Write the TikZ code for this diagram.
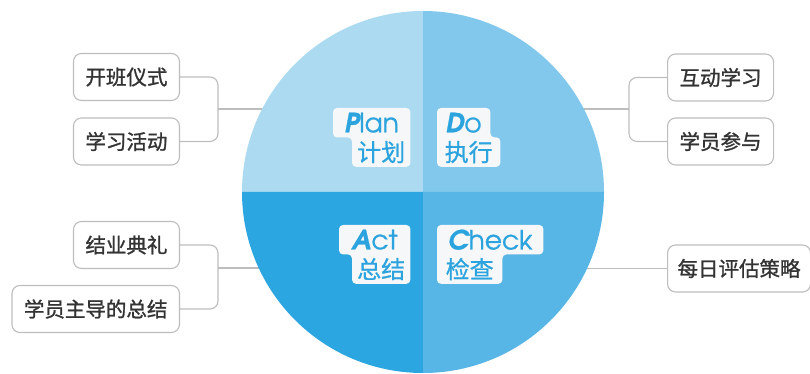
\documentclass[tikz,border=0pt]{standalone}
\usepackage{fontspec}
\newfontfamily\cjk[FakeBold=1.2]{Noto Sans CJK SC}
\newfontfamily\cjkt[FakeBold=0.8]{Noto Sans CJK SC}
\newfontfamily\adv[FakeBold=0.8]{TeX Gyre Adventor}
\usetikzlibrary{positioning,calc}
\tikzset{>=stealth}
\definecolor{planblue}{HTML}{ABDAF1}
\definecolor{doblue}{HTML}{82C8EC}
\definecolor{actblue}{HTML}{2CA6E0}
\definecolor{checkblue}{HTML}{58B6E6}
\definecolor{tagbg}{HTML}{F5F7F8}
\definecolor{tagtext}{HTML}{2BA3DE}
\definecolor{linegray}{HTML}{BDBDBD}
\definecolor{textgray}{HTML}{333333}
\pgfdeclarelayer{back}
\pgfdeclarelayer{tag}
\pgfsetlayers{back,tag,main}
\newcommand*{\tg}[2]{{\bfseries\itshape #1}#2}
\tikzset{
  item/.style={draw=linegray, line width=1.1pt, rounded corners=8pt, fill=white,
    minimum height=47pt, inner xsep=12pt, inner ysep=0pt, text=textgray,
    font=\cjk\fontsize{20.5}{24}\selectfont},
  link/.style={draw=linegray, line width=1.1pt},
  tagen/.style={inner sep=0pt, minimum height=29pt, text=tagtext,
    font=\adv\fontsize{26.5}{30}\selectfont},
  tagcn/.style={inner sep=0pt, minimum height=29pt, text=tagtext,
    font=\cjkt\fontsize{24}{27}\selectfont},
  tagfill/.style={fill=tagbg, rounded corners=4pt}
}

\begin{document}
\begin{tikzpicture}[x=1pt,y=1pt]
\useasboundingbox (0,0) rectangle (810,374);
\coordinate (o) at (423,182);

% Left items
\node[item, anchor=east] (kaiban) at (180,297) {开班仪式};
\node[item, anchor=east] (xuexi) at (180,232.5) {学习活动};
\node[item, anchor=east] (jieye) at (180,129) {结业典礼};
\node[item, anchor=east] (zhudao) at (180,65) {学员主导的总结};

% Right items
\node[item, anchor=west] (hudong) at (667,296.5) {互动学习};
\node[item, anchor=west] (canyu) at (667,232.5) {学员参与};
\node[item, anchor=west, inner xsep=10pt] (meiri) at (667,105.5) {每日评估策略};

\begin{pgfonlayer}{back}
% Draw brackets
\coordinate (lj1) at (218,265);
\coordinate (lj2) at (218,106);
\coordinate (rj1) at (629,265);
\draw[link, rounded corners=8pt] (kaiban.east) -| (lj1) |- (xuexi.east);
\draw[link, rounded corners=8pt] (jieye.east) -| (lj2) |- (zhudao.east);
\draw[link, rounded corners=8pt] (hudong.west) -| (rj1) |- (canyu.west);
\draw[link] (lj1) -- (lj1 -| o);
\draw[link] (lj2) -- (lj2 -| o);
\draw[link] (rj1) -- (rj1 -| o);
\draw[link] (meiri.west) -- (meiri.west -| o);

% Draw quadrants
\fill[planblue] (o) -- ++(0,181) arc[start angle=90, end angle=180, radius=181pt] -- cycle;
\fill[doblue] (o) -- ++(181,0) arc[start angle=0, end angle=90, radius=181pt] -- cycle;
\fill[actblue] (o) -- ++(-181,0) arc[start angle=180, end angle=270, radius=181pt] -- cycle;
\fill[checkblue] (o) -- ++(0,-181) arc[start angle=270, end angle=360, radius=181pt] -- cycle;
\end{pgfonlayer}

% Tags
\node[tagen, minimum width=77pt, anchor=north west] (plan) at (333,266) {\tg{P}{lan}};
\node[tagcn, minimum width=58pt, anchor=north east] (plancn) at (plan.south east) {计划};
\node[tagen, minimum width=53pt, anchor=north west] (do) at (437,266) {\tg{D}{o}};
\node[tagcn, minimum width=63pt, anchor=north west] (docn) at (do.south west) {执行};
\node[tagen, minimum width=71pt, anchor=north west] (act) at (339,149) {\tg{A}{ct}};
\node[tagcn, minimum width=58pt, anchor=north east] (actcn) at (act.south east) {总结};
\node[tagen, minimum width=106pt, anchor=north west] (check) at (437,149) {\tg{C}{heck}};
\node[tagcn, minimum width=65pt, anchor=north west] (checkcn) at (check.south west) {检查};

\begin{pgfonlayer}{tag}
\fill[tagfill] (plan.north west) -- (plan.north east) -- (plancn.south east) -- (plancn.south west) -- (plancn.north west) -- (plan.south west) -- cycle;
\fill[tagfill] (do.north west) -- (do.north east) -- (do.south east) -- (docn.north east) -- (docn.south east) -- (docn.south west) -- cycle;
\fill[tagfill] (act.north west) -- (act.north east) -- (actcn.south east) -- (actcn.south west) -- (actcn.north west) -- (act.south west) -- cycle;
\fill[tagfill] (check.north west) -- (check.north east) -- (check.south east) -- (checkcn.north east) -- (checkcn.south east) -- (checkcn.south west) -- cycle;
\end{pgfonlayer}
\end{tikzpicture}
\end{document}
